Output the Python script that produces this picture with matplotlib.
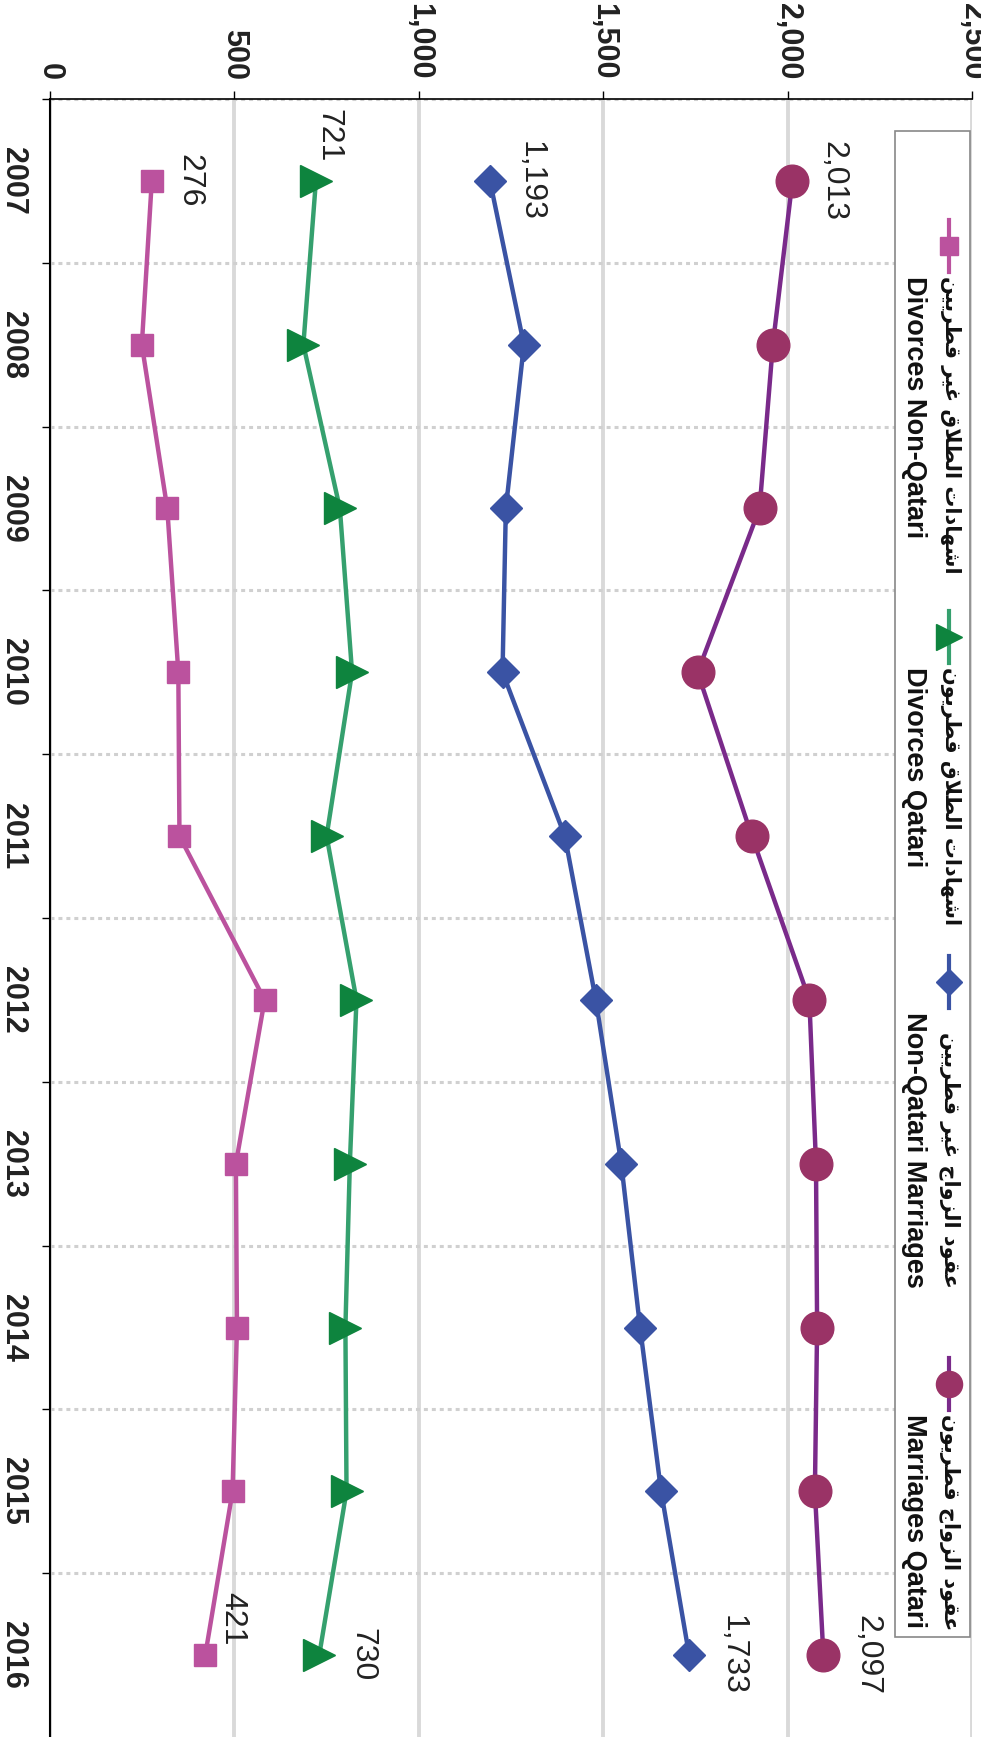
import matplotlib
matplotlib.use("Agg")
import matplotlib.pyplot as plt
import numpy as np
from matplotlib.lines import Line2D
from matplotlib.patches import Rectangle

W, H = 981, 1737

years = [str(y) for y in range(2007, 2017)]
marriages_qatari = [2013, 1960, 1924, 1756, 1903, 2059, 2077, 2080, 2074, 2097]
marriages_non_qatari = [1193, 1285, 1236, 1227, 1396, 1480, 1549, 1600, 1657, 1733]
divorces_qatari = [721, 687, 786, 819, 750, 831, 813, 801, 804, 730]
divorces_non_qatari = [276, 249, 318, 348, 351, 582, 504, 507, 495, 421]
value_ticks = [0, 500, 1000, 1500, 2000, 2500]

series_en = ["Divorces Non-Qatari", "Divorces Qatari", "Non-Qatari Marriages", "Marriages Qatari"]
series_ar = ["اشهادات الطلاق غير قطريين", "اشهادات الطلاق قطريون",
             "عقود الزواج غير قطريين", "عقود الزواج قطريون"]
series_vals = [divorces_non_qatari, divorces_qatari, marriages_non_qatari, marriages_qatari]

# style per series: line colour, marker colour, marker, size
styles = [
    ("#bb529e", "#bb529e", "s", 16.5),
    ("#35a06e", "#0e843e", ">", 23),
    ("#3a53a4", "#3a53a4", "D", 16.5),
    ("#7a2a8a", "#9a3366", "o", 23.5),
]
# offsets (px) of first / last value labels
label_off = [((38, 0), (27, 36)), ((12, 45), (43, 0)), ((41, 0), (43, 0)), ((41, 0), (44, 0))]

NARROW = ["Liberation Sans Narrow", "Liberation Sans", "DejaVu Sans"]

# ---- minimal arabic shaping (presentation forms, visual order) ----
AR_FORMS = {
    "ا": ("\uFE8D", "\uFE8E", None, None),
    "ت": ("\uFE95", "\uFE96", "\uFE97", "\uFE98"),
    "ج": ("\uFE9D", "\uFE9E", "\uFE9F", "\uFEA0"),
    "د": ("\uFEA9", "\uFEAA", None, None),
    "ر": ("\uFEAD", "\uFEAE", None, None),
    "ز": ("\uFEAF", "\uFEB0", None, None),
    "ش": ("\uFEB5", "\uFEB6", "\uFEB7", "\uFEB8"),
    "ط": ("\uFEC1", "\uFEC2", "\uFEC3", "\uFEC4"),
    "ع": ("\uFEC9", "\uFECA", "\uFECB", "\uFECC"),
    "غ": ("\uFECD", "\uFECE", "\uFECF", "\uFED0"),
    "ق": ("\uFED5", "\uFED6", "\uFED7", "\uFED8"),
    "ل": ("\uFEDD", "\uFEDE", "\uFEDF", "\uFEE0"),
    "ن": ("\uFEE5", "\uFEE6", "\uFEE7", "\uFEE8"),
    "ه": ("\uFEE9", "\uFEEA", "\uFEEB", "\uFEEC"),
    "و": ("\uFEED", "\uFEEE", None, None),
    "ي": ("\uFEF1", "\uFEF2", "\uFEF3", "\uFEF4"),
    "لا": ("\uFEFB", "\uFEFC", None, None),
}


def shape_arabic(text):
    letters = []
    i = 0
    while i < len(text):
        if text[i] == "ل" and i + 1 < len(text) and text[i + 1] == "ا":
            letters.append("لا")
            i += 2
        else:
            letters.append(text[i])
            i += 1
    out = []
    for k, ch in enumerate(letters):
        if ch not in AR_FORMS:
            out.append(ch)
            continue
        f = AR_FORMS[ch]
        prev = letters[k - 1] if k > 0 else " "
        nxt = letters[k + 1] if k + 1 < len(letters) else " "
        jp = prev in AR_FORMS and AR_FORMS[prev][2] is not None
        jn = f[2] is not None and nxt in AR_FORMS
        if jp and jn:
            out.append(f[3])
        elif jp:
            out.append(f[1])
        elif jn:
            out.append(f[2])
        else:
            out.append(f[0])
    return "".join(out)[::-1]


def fx(x):
    return x / W


def fy(y):
    return 1 - y / H


fig = plt.figure(figsize=(W / 100, H / 100), dpi=100)
fig.patch.set_facecolor("white")
ax = fig.add_axes([50 / W, 0, 922 / W, 1638 / H])

idx = np.arange(len(years))
for vals, (lc, mc, mk, ms), (o1, o2) in zip(series_vals, styles, label_off):
    ax.plot(vals, idx, color=lc, lw=3.2, marker=mk, ms=ms, mfc=mc, mec=mc, zorder=3)
    for j, off in ((0, o1), (len(vals) - 1, o2)):
        ax.annotate(f"{vals[j]:,}", (vals[j], idx[j]), xytext=off, textcoords="offset pixels",
                    rotation=-90, ha="center", va="center", fontsize=23,
                    family=NARROW, color="#222222", zorder=4)

ax.set_xlim(0, 2500)
ax.set_ylim(9.5, -0.5)
ax.xaxis.tick_top()
ax.set_xticks(value_ticks)
ax.set_xticklabels([f"{v:,}" for v in value_ticks], rotation=-90, ha="center", va="bottom",
                   fontsize=22, fontweight="bold", family=NARROW, color="#222222")
ax.tick_params(axis="x", which="major", direction="out", length=6, width=1, pad=8)
ax.set_yticks(idx)
ax.set_yticklabels(years, rotation=-90, ha="right", va="center",
                   fontsize=22, fontweight="bold", family=NARROW, color="#222222")
ax.set_yticks(np.arange(-0.5, 9.0, 1), minor=True)
ax.tick_params(axis="y", which="major", length=0, pad=16)
ax.tick_params(axis="y", which="minor", direction="out", length=6, width=1)

ax.grid(axis="x", which="major", color="#d9d9d9", lw=2.8)
ax.grid(axis="y", which="minor", color="#d0d0d0", lw=2.2, linestyle=(0, (1.3, 1.3)))
ax.set_axisbelow(True)
for s in ("right", "bottom"):
    ax.spines[s].set_visible(False)
ax.spines["top"].set_linewidth(1.2)
ax.spines["left"].set_linewidth(1.5)

# ---- legend (drawn by hand, rotated) ----
fig.add_artist(Rectangle((fx(895), fy(1637)), fx(970) - fx(895), (1637 - 131) / H,
                         transform=fig.transFigure, facecolor="white", edgecolor="#888888", lw=1.2))
centers = [246, 637, 982, 1384]
fig.canvas.draw()
renderer = fig.canvas.get_renderer()
for c, (lc, mc, mk, ms), en, ar in zip(centers, styles, series_en, series_ar):
    fig.add_artist(Line2D([fx(949)] * 3, [fy(c - 26), fy(c), fy(c + 26)], transform=fig.transFigure,
                          color=lc, lw=3, marker=mk, ms=ms * 0.8, mfc=mc, mec=mc, markevery=[1]))
    start = c + 30
    t_en = fig.text(fx(914), fy(start), en, rotation=-90, ha="center", va="top",
                    fontsize=19.5, fontweight="bold", family=NARROW, color="#111111")
    t_ar = fig.text(fx(950), fy(start), shape_arabic(ar), rotation=-90, ha="center", va="top",
                    fontsize=15, fontweight="bold", family=["DejaVu Sans"], color="#111111")
    len_en = t_en.get_window_extent(renderer).height
    len_ar = t_ar.get_window_extent(renderer).height
    t_ar.set_y(fy(start + max(len_en, len_ar)))
    t_ar.set_va("bottom")

fig.savefig("out.png", dpi=100)
